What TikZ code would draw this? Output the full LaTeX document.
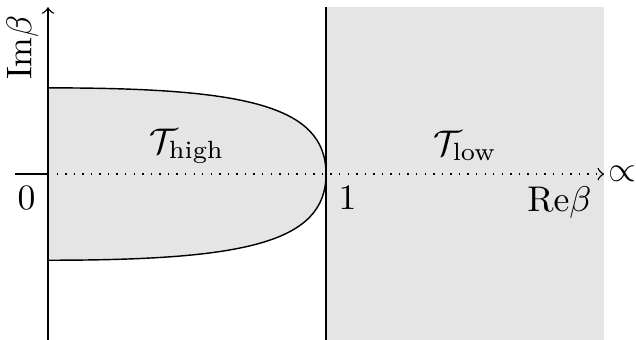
\documentclass[tikz,border=0pt]{standalone}
\usepackage{amsmath}
\usetikzlibrary{positioning, calc}

\begin{document}
\begin{tikzpicture}[
    x=2.74cm, y=2.74cm,
    region/.style={fill=gray!20},
    axis/.style={->},
    bound/.style={draw, fill=gray!20}
]
    \useasboundingbox (-0.1727,-0.594) rectangle (2.115,0.626);

    \coordinate (origin) at (0,0);
    \coordinate (one) at (1,0);
    \coordinate (xend) at (2,0);
    \coordinate (xstart) at (-0.12,0);
    \coordinate (ytop) at (0,0.6);
    \coordinate (ybot) at (0,-0.6);

    % low temperature half plane
    \fill[region] (1,-0.6) rectangle (2,0.6);
    % high temperature region
    \filldraw[bound] (0,0.31) .. controls (0.7,0.31) and (1,0.25) .. (one)
        .. controls (1,-0.25) and (0.7,-0.31) .. (0,-0.31);
    \draw (1,-0.6) -- (1,0.6);

    % axes
    \draw (xstart) -- (origin);
    \draw[axis, dotted] (origin) -- (xend);
    \draw[axis] (ybot) -- (ytop);

    \node[below left] (zero) at (origin) {$0$};
    \node[below right] (onelabel) at (one) {$1$};
    \node[below left] (relabel) at (xend) {$\mathrm{Re}\beta$};
    \node[anchor=west, inner sep=1pt] (prop) at (xend) {$\propto$};
    \node[rotate=90] (imlabel) at (-0.092,0.455) {$\mathrm{Im}\beta$};
    \node (thigh) at (0.5,0.1) {$\mathcal{T}_{\text{high}}$};
    \node (tlow) at (1.5,0.1) {$\mathcal{T}_{\text{low}}$};
\end{tikzpicture}
\end{document}
